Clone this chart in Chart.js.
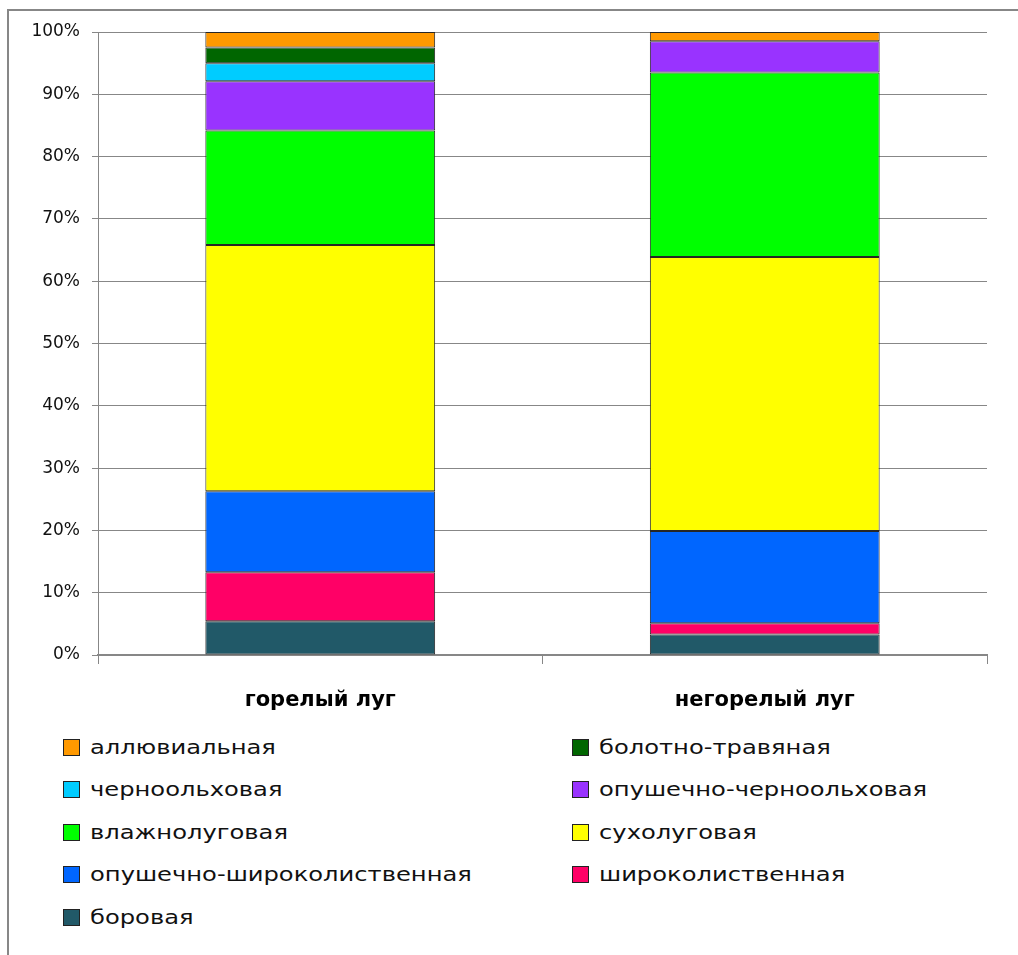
<!DOCTYPE html>
<html>
<head>
<meta charset="utf-8">
<title>Типы растительности</title>
<script src="https://cdn.jsdelivr.net/npm/chart.js"></script>
<style>
  body { margin: 0; background: #fff; font-family: "DejaVu Sans", sans-serif; }
  #wrap { position: relative; width: 1018px; height: 955px; overflow: hidden; }
  #frame { position: absolute; left: 7px; top: 9px; width: 1100px; height: 1100px;
           border-left: 2px solid #878787; border-top: 2px solid #878787; }
  #box { position: absolute; left: 0; top: 0; width: 1018px; height: 720px; }
  #legend { position: absolute; left: 0; top: 0; }
  .item { position: absolute; height: 22px; display: flex; align-items: center; white-space: nowrap; }
  .sw { width: 15px; height: 15px; border: 1px solid #222; box-sizing: content-box; }
  .tx { margin-left: 10px; font-size: 20px; color: #111; transform: scaleX(1.21); transform-origin: left center; }
</style>
</head>
<body>
<div id="wrap">
  <div id="frame"></div>
  <div id="box"><canvas id="chart"></canvas></div>
  <div id="legend"></div>
</div>
<script>
// categories
const meadows = ['горелый луг', 'негорелый луг'];

// shares, %, listed from the bottom of each bar upward
const borovaya = [5.4, 3.3];
const shirokolist = [7.9, 1.8];
const opushShirokolist = [13.0, 14.8];
const sukholug = [39.5, 44.0];
const vlazhnolug = [18.4, 29.6];
const opushChernool = [7.9, 5.0];
const chernool = [2.9, 0];
const bolotno = [2.5, 0];
const allyuv = [2.5, 1.5];

const yTicks = [0, 10, 20, 30, 40, 50, 60, 70, 80, 90, 100];

const series = [
  { label: 'боровая', data: borovaya, color: '#215968' },
  { label: 'широколиственная', data: shirokolist, color: '#FF0066' },
  { label: 'опушечно-широколиственная', data: opushShirokolist, color: '#0066FF' },
  { label: 'сухолуговая', data: sukholug, color: '#FFFF00' },
  { label: 'влажнолуговая', data: vlazhnolug, color: '#00FF00' },
  { label: 'опушечно-черноольховая', data: opushChernool, color: '#9933FF' },
  { label: 'черноольховая', data: chernool, color: '#00CCFF' },
  { label: 'болотно-травяная', data: bolotno, color: '#006600' },
  { label: 'аллювиальная', data: allyuv, color: '#FF9900' }
];

const gridColor = '#878787';

const chart = new Chart(document.getElementById('chart'), {
  type: 'bar',
  data: {
    labels: meadows,
    datasets: series.map(s => ({
      label: s.label,
      data: s.data,
      backgroundColor: s.color,
      borderColor: '#262626',
      borderWidth: 1,
      borderSkipped: false,
      inflateAmount: 0,
      barPercentage: 0.517,
      categoryPercentage: 1.0
    }))
  },
  options: {
    responsive: true,
    maintainAspectRatio: false,
    animation: false,
    layout: { padding: { left: 0, top: 32, right: 31, bottom: 0 } },
    plugins: {
      legend: { display: false },
      tooltip: { enabled: false }
    },
    scales: {
      x: {
        stacked: true,
        afterFit: s => { s.height = 65; },
        grid: { offset: true, drawOnChartArea: false, drawTicks: true, tickLength: 9, color: gridColor },
        border: { color: gridColor, width: 2 },
        ticks: { color: '#000', padding: 24, font: { family: 'DejaVu Sans', size: 21, weight: 'bold' } }
      },
      y: {
        stacked: true,
        min: 0,
        max: 100,
        afterFit: s => { s.width = 98; },
        afterBuildTicks: s => { s.ticks = yTicks.map(v => ({ value: v })); },
        grid: { color: gridColor, tickLength: 6 },
        border: { color: gridColor, width: 1 },
        ticks: {
          color: '#111',
          padding: 12,
          font: { family: 'DejaVu Sans', size: 17 },
          callback: v => v + '%'
        }
      }
    }
  }
});

// legend in two columns, top of the stack first
const legendOrder = series.slice().reverse();
const legend = document.getElementById('legend');
const colX = [63, 572];
const rowY = [747, 789, 832, 874, 917];
legendOrder.forEach((s, i) => {
  const div = document.createElement('div');
  div.className = 'item';
  div.style.left = colX[i % 2] + 'px';
  div.style.top = (rowY[Math.floor(i / 2)] - 11) + 'px';
  div.innerHTML = '<span class="sw" style="background:' + s.color + '"></span><span class="tx">' + s.label + '</span>';
  legend.appendChild(div);
});
</script>
</body>
</html>
